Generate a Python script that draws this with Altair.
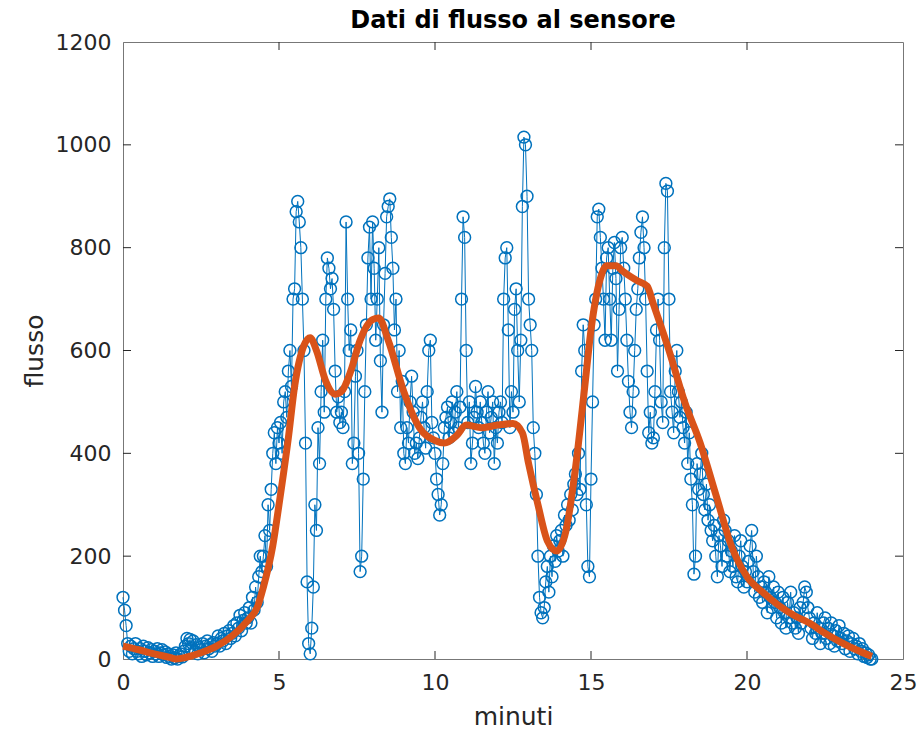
import altair as alt
import pandas as pd

# flow samples every 0.05 minutes, 0.00 .. 24.00 (10 values per half minute)
flusso = [
    120, 95, 65, 30, 15, 25, 10, 20, 30, 15,
    10, 20, 5, 25, 15, 8, 22, 12, 18, 5,
    15, 10, 20, 5, 12, 18, 8, 14, 3, 10,
    5, 0, 8, 2, 12, 0, 6, 10, 4, 15,
    25, 40, 30, 38, 20, 35, 15, 28, 10, 22,
    18, 30, 12, 25, 35, 20, 28, 15, 32, 25,
    30, 45, 25, 40, 35, 50, 30, 45, 55, 40,
    50, 65, 45, 70, 60, 85, 55, 75, 90, 70,
    80, 100, 70, 120, 95, 140, 110, 160, 200, 170,
    200, 240, 180, 300, 250, 330, 400, 440, 380, 450,
    420, 460, 400, 500, 520, 470, 560, 600, 530, 700,
    720, 870, 890, 850, 800, 700, 600, 420, 150, 30,
    10, 60, 140, 300, 250, 450, 380, 520, 620, 480,
    700, 780, 760, 720, 740, 680, 560, 480, 510, 460,
    480, 450, 520, 850, 700, 600, 640, 380, 420, 550,
    600, 400, 170, 200, 350, 520, 650, 780, 840, 700,
    850, 760, 620, 700, 800, 580, 480, 650, 750, 860,
    880, 895, 820, 760, 640, 700, 520, 600, 450, 540,
    400, 380, 450, 420, 500, 550, 480, 400, 420, 390,
    430, 470, 500, 450, 410, 520, 600, 620, 460, 430,
    400, 350, 320, 280, 300, 380, 450, 470, 490, 430,
    460, 500, 440, 480, 520, 450, 490, 700, 860, 820,
    600, 460, 500, 380, 420, 470, 530, 480, 450, 500,
    460, 420, 400, 480, 520, 440, 470, 500, 380, 450,
    420, 480, 500, 460, 700, 780, 800, 640, 450, 520,
    480, 680, 720, 600, 500, 620, 880, 1015, 1000, 900,
    700, 650, 600, 450, 400, 320, 200, 120, 90, 80,
    100, 150, 180, 130, 200, 160, 220, 190, 240, 210,
    230, 250, 200, 280, 260, 300, 270, 320, 290, 340,
    360, 320, 400, 330, 560, 650, 600, 300, 180, 160,
    350, 500, 650, 700, 860, 875, 820, 760, 700, 620,
    780, 800, 700, 620, 760, 810, 740, 560, 680, 800,
    820, 760, 700, 620, 540, 480, 450, 520, 600, 680,
    720, 780, 830, 860, 800, 700, 560, 440, 480, 420,
    430, 520, 640, 700, 620, 500, 460, 800, 925, 910,
    700, 520, 480, 440, 560, 600, 520, 470, 500, 450,
    420, 480, 380, 440, 350, 300, 165, 200, 380, 330,
    360, 400, 320, 290, 340, 270, 300, 250, 230, 260,
    200, 160, 240, 220, 180, 270, 250, 200, 230, 170,
    210, 180, 240, 160, 150, 200, 230, 180, 140, 170,
    150, 190, 220, 250, 170, 130, 200, 160, 120, 140,
    110, 150, 130, 90, 160, 120, 100, 140, 110, 80,
    130, 100, 70, 120, 90, 60, 110, 80, 130, 70,
    90, 60, 80, 50, 100, 70, 110, 140, 130, 100,
    80, 60, 40, 70, 50, 90, 60, 30, 50, 70,
    80, 40, 60, 30, 70, 45, 25, 55, 35, 65,
    40, 30, 50, 20, 35, 45, 15, 30, 40, 20,
    25, 10, 30, 15, 20, 5, 12, 3, 8, 0,
    0,
]
minuti = [round(i * 0.05, 2) for i in range(len(flusso))]

# smoothed curve
liscio_minuti = [0, 0.5, 1.0, 1.5, 1.7, 2.0, 2.5, 3.0, 3.5, 4.0, 4.3, 4.5, 4.8, 5.0,
                 5.3, 5.5, 5.8, 6.0, 6.2, 6.5, 6.8, 7.0, 7.3, 7.6, 8.0, 8.2, 8.5,
                 9.0, 9.5, 10.0, 10.3, 10.7, 11.0, 11.5, 12.0, 12.5, 12.8, 13.0,
                 13.3, 13.6, 13.9, 14.2, 14.5, 14.8, 15.0, 15.3, 15.5, 15.8, 16.0,
                 16.5, 16.8, 17.0, 17.5, 18.0, 18.5, 19.0, 19.5, 20.0, 20.5, 21.0,
                 21.5, 22.0, 22.5, 23.0, 23.5, 24.0]
liscio_flusso = [25, 18, 10, 3, 0, 3, 12, 25, 45, 75, 100, 140, 220, 300,
                 430, 530, 610, 625, 600, 540, 515, 520, 560, 620, 660, 663, 620,
                 520, 450, 425, 420, 435, 455, 450, 455, 458, 440, 380,
                 300, 230, 210, 250, 370, 530, 640, 740, 765, 765, 755,
                 735, 725, 690, 600, 500, 420, 320, 220, 160, 130, 105,
                 85, 70, 50, 33, 18, 5]

x_ticks = [5, 10, 15, 20]
y_ticks = [200, 400, 600, 800, 1000]

df = pd.DataFrame({"minuti": minuti, "flusso": flusso})
df_s = pd.DataFrame({"minuti": liscio_minuti, "flusso": liscio_flusso})
df_xt = pd.DataFrame({"minuti": x_ticks})
df_yt = pd.DataFrame({"flusso": y_ticks})

W, H = 780, 617
BLUE = "#0072BD"
RED = "#D95319"
AX = "#262626"
FONT = "DejaVu Sans"

xs = alt.Scale(domain=[0, 25], nice=False)
ys = alt.Scale(domain=[0, 1200], nice=False)

x_axis = alt.Axis(title="minuti", values=[0, 5, 10, 15, 20, 25], ticks=False,
                  grid=False, labelFontSize=22, titleFontSize=25, format="d",
                  labelFont=FONT, titleFont=FONT, labelColor=AX,
                  titleColor=AX, titleFontWeight="normal", labelPadding=13,
                  titlePadding=11, domainColor="#777777", labelFlush=False)
y_axis = alt.Axis(title="flusso", values=[0, 200, 400, 600, 800, 1000, 1200],
                  ticks=False, grid=False, labelFontSize=22, titleFontSize=25, format="d",
                  labelFont=FONT, titleFont=FONT, labelColor=AX,
                  titleColor=AX, titleFontWeight="normal", labelPadding=12,
                  titlePadding=8, domainColor="#777777", labelFlush=False)

x_enc = alt.X("minuti:Q", scale=xs, axis=x_axis)
y_enc = alt.Y("flusso:Q", scale=ys, axis=y_axis)

base = alt.Chart(df).encode(x=x_enc, y=y_enc)
blue_line = base.mark_line(color=BLUE, strokeWidth=1)
blue_pts = base.mark_point(shape="circle", filled=False, color=BLUE, size=140,
                           strokeWidth=1.5, opacity=1)
red_line = alt.Chart(df_s).mark_line(color=RED, strokeWidth=7, interpolate="monotone").encode(
    x=x_enc, y=y_enc)

tick_x_bot = alt.Chart(df_xt).mark_rule(color=AX, strokeWidth=1).encode(
    x=x_enc, y=alt.value(H), y2=alt.value(H - 8))
tick_x_top = alt.Chart(df_xt).mark_rule(color=AX, strokeWidth=1).encode(
    x=x_enc, y=alt.value(0), y2=alt.value(8))
tick_y_left = alt.Chart(df_yt).mark_rule(color=AX, strokeWidth=1).encode(
    y=y_enc, x=alt.value(0), x2=alt.value(8))
tick_y_right = alt.Chart(df_yt).mark_rule(color=AX, strokeWidth=1).encode(
    y=y_enc, x=alt.value(W), x2=alt.value(W - 8))

chart = alt.layer(blue_line, blue_pts, red_line, tick_x_bot, tick_x_top,
                  tick_y_left, tick_y_right).properties(
    width=W, height=H,
    title=alt.Title("Dati di flusso al sensore", fontSize=24, font=FONT,
                    fontWeight="bold", color="black", offset=5, dy=7),
    padding={"left": 123, "top": 42, "right": 16, "bottom": 75},
    autosize=alt.AutoSizeParams(type="none"),
    background="white",
).configure_view(stroke="#777777", strokeWidth=1)

chart.save("out.html", embed_options={"renderer": "svg", "actions": False})
